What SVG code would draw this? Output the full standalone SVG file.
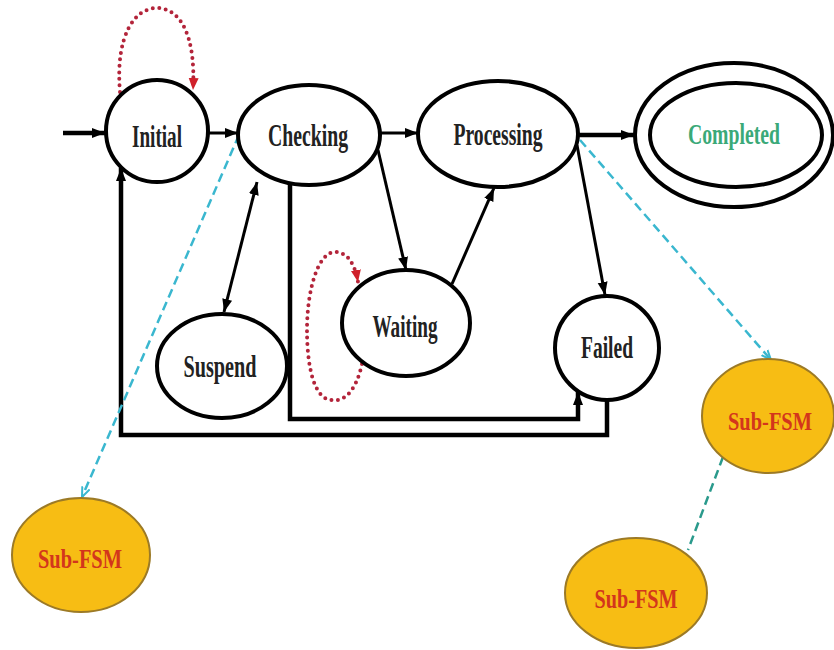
<svg xmlns="http://www.w3.org/2000/svg" width="834" height="650" viewBox="0 0 834 650">
<style>
.st{fill:#fff;stroke:#000;stroke-width:4}
.sub{fill:#f7bd14;stroke:#9c7a26;stroke-width:2}
.lbl{font-family:"Liberation Serif","Times New Roman",serif;font-weight:bold;font-size:32px;fill:#222;text-anchor:middle}
.sublbl{font-family:"Liberation Serif","Times New Roman",serif;font-weight:bold;font-size:28px;fill:#d3361c;text-anchor:middle}
.ln{fill:none;stroke:#000;stroke-width:3}
.thick{fill:none;stroke:#000;stroke-width:4.5}
.dot{fill:none;stroke:#b3243a;stroke-width:4;stroke-dasharray:0 6.5;stroke-linecap:round}
.dash{fill:none;stroke:#3ab7cf;stroke-width:2.5;stroke-dasharray:9 5}
.dash2{fill:none;stroke:#2a9a8c;stroke-width:2.5;stroke-dasharray:9 5}
</style>
<defs>
<marker id="ah" markerUnits="userSpaceOnUse" markerWidth="14" markerHeight="12" refX="13" refY="6" orient="auto-start-reverse"><path d="M0,1 L13,6 L0,11 Z" fill="#000"/></marker>
<marker id="ahr" markerUnits="userSpaceOnUse" markerWidth="14" markerHeight="12" refX="12" refY="6" orient="auto"><path d="M0,1 L12,6 L0,11 Z" fill="#d0202a"/></marker>
<marker id="ahc" markerUnits="userSpaceOnUse" markerWidth="12" markerHeight="10" refX="10" refY="5" orient="auto"><path d="M0,1 L10,5 L0,9" fill="none" stroke="#3ab7cf" stroke-width="2"/></marker>
</defs>
<rect width="834" height="650" fill="#fff"/>
<g id="connectors">
<path class="thick" d="M63,133 L105,133" marker-end="url(#ah)"/>
<path class="ln" d="M208,133 L238,133" marker-end="url(#ah)"/>
<path class="ln" d="M380,133 L418,133" marker-end="url(#ah)"/>
<path class="thick" d="M579,135 L634,135" marker-end="url(#ah)"/>
<path class="ln" d="M257,182 L224,312" marker-start="url(#ah)" marker-end="url(#ah)"/>
<path class="ln" d="M378,150 L406,270" marker-end="url(#ah)"/>
<path class="ln" d="M452,284 L494,188" marker-end="url(#ah)"/>
<path class="ln" d="M577,145 L605,295" marker-end="url(#ah)"/>
<path class="thick" d="M290,183 L290,419 L578,419 L578,392" marker-end="url(#ah)"/>
<path class="thick" d="M607,400 L607,435 L121,435 L121,168" marker-end="url(#ah)"/>
<path class="dot" d="M120,92 C115,35 135,8 157,8 C180,8 196,35 193,90" marker-end="url(#ahr)"/>
<path class="dot" d="M362,364 C355,395 342,402 331,400 C312,398 307,360 307,330 C307,290 318,252 335,252 C348,252 355,265 358,282" marker-end="url(#ahr)"/>
<path class="dash" d="M239,135 L82,497" marker-end="url(#ahc)"/>
<path class="dash" d="M580,140 L771,360" marker-end="url(#ahc)"/>
<path class="dash2" d="M723,457 L688,550"/>
</g>
<g id="initial"><ellipse class="st" cx="157" cy="131" rx="51" ry="51"/><text class="lbl" x="157" y="147" textLength="50" lengthAdjust="spacingAndGlyphs">Initial</text></g>
<g id="checking"><ellipse class="st" cx="309" cy="135" rx="71" ry="50"/><text class="lbl" x="308" y="146" textLength="80" lengthAdjust="spacingAndGlyphs">Checking</text></g>
<g id="processing"><ellipse class="st" cx="498" cy="134" rx="80" ry="53"/><text class="lbl" x="498" y="145" textLength="89" lengthAdjust="spacingAndGlyphs">Processing</text></g>
<g id="completed"><ellipse class="st" cx="734" cy="135" rx="99" ry="72"/><ellipse class="st" cx="736" cy="135" rx="86" ry="52"/><text class="lbl" x="734" y="144" textLength="92" lengthAdjust="spacingAndGlyphs" style="fill:#3aa978;font-size:29px">Completed</text></g>
<g id="suspend"><ellipse class="st" cx="222" cy="366" rx="65" ry="52"/><text class="lbl" x="220" y="377" textLength="73" lengthAdjust="spacingAndGlyphs">Suspend</text></g>
<g id="waiting"><ellipse class="st" cx="406" cy="323" rx="64" ry="53"/><text class="lbl" x="405" y="337" textLength="65" lengthAdjust="spacingAndGlyphs">Waiting</text></g>
<g id="failed"><ellipse class="st" cx="607" cy="348" rx="52" ry="52"/><text class="lbl" x="607" y="358" textLength="52" lengthAdjust="spacingAndGlyphs">Failed</text></g>
<g id="subfsm-left"><ellipse class="sub" cx="81" cy="555" rx="69" ry="57"/><text class="sublbl" x="80" y="568" textLength="84" lengthAdjust="spacingAndGlyphs">Sub-FSM</text></g>
<g id="subfsm-right"><ellipse class="sub" cx="768" cy="416" rx="66" ry="57"/><text class="sublbl" x="770" y="430" textLength="84" lengthAdjust="spacingAndGlyphs" style="font-size:26px">Sub-FSM</text></g>
<g id="subfsm-bottom"><ellipse class="sub" cx="636" cy="593" rx="71" ry="55"/><text class="sublbl" x="636" y="608" textLength="83" lengthAdjust="spacingAndGlyphs">Sub-FSM</text></g>
</svg>
